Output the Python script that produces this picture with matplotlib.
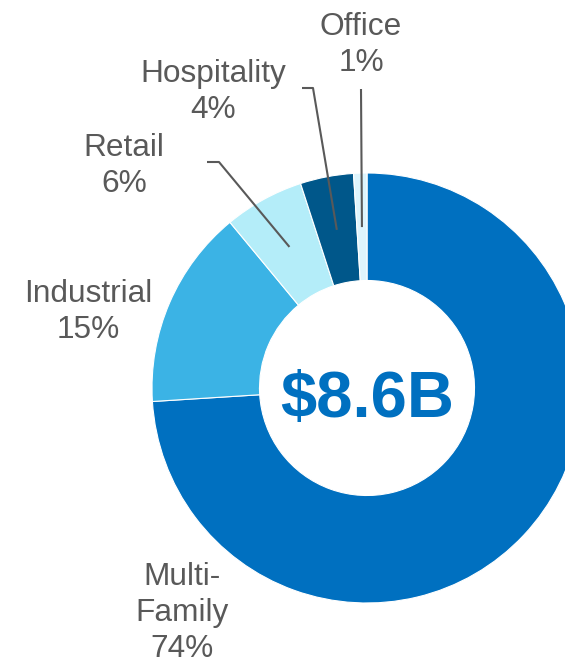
import numpy as np
import matplotlib.pyplot as plt

# chart data
segments = ["Multi-Family", "Industrial", "Retail", "Hospitality", "Office"]
shares = [74, 15, 6, 4, 1]
label_names = ["Multi-\nFamily", "Industrial", "Retail", "Hospitality", "Office"]
total_label = r"\$8.6B"

colors = ["#0070C0", "#3BB3E5", "#B4EDF9", "#00578A", "#DEF5FD"]
text_gray = "#595959"

W, H = 565, 661


def py(y):
    # pixel row (from top) -> data y
    return H - y


# label placement: centre x, first baseline, in pixels from top-left
label_pos = {
    "Multi-Family": (182, 585),
    "Industrial": (88, 302),
    "Retail": (124, 156),
    "Hospitality": (213, 82),
    "Office": (361, 35),
}
# leader lines: elbow points in pixels (None = no leader)
leaders = {
    "Retail": [(207, 162), (219, 162)],
    "Hospitality": [(302, 88), (313, 88)],
    "Office": [(361, 89)],
}
line_step = 36

cx, cy = 367, py(388)
r_out, r_in = 215, 107.5

fig = plt.figure(figsize=(W / 100, H / 100), dpi=100)
ax = fig.add_axes([0, 0, 1, 1])

ax.pie(shares, colors=colors, startangle=90, counterclock=False,
       radius=r_out, center=(cx, cy),
       wedgeprops=dict(width=r_out - r_in, edgecolor="white", linewidth=0.8))

ax.set_xlim(0, W)
ax.set_ylim(0, H)
ax.set_aspect("equal")
ax.axis("off")

font = "Liberation Sans"
cum = np.cumsum([0] + shares[:-1])
for name, lab, share, c0 in zip(segments, label_names, shares, cum):
    x0, y0 = label_pos[name]
    lines = lab.split("\n") + [f"{share}%"]
    for i, line in enumerate(lines):
        ax.text(x0, py(y0 + i * line_step), line, ha="center", va="baseline",
                fontsize=22.8, color=text_gray, family=font)
    if name in leaders:
        theta = np.deg2rad(90 - 360 * (c0 + share / 2) / 100)
        ex = cx + 161 * np.cos(theta)
        ey = cy + 161 * np.sin(theta)
        pts = leaders[name]
        xs = [p[0] for p in pts] + [ex]
        ys = [py(p[1]) for p in pts] + [ey]
        ax.plot(xs, ys, color=text_gray, lw=1.5, solid_capstyle="butt")

ax.text(cx, py(417), total_label, ha="center", va="baseline",
        fontsize=47, fontweight="bold", color="#0070C0", family=font)

fig.savefig("out.png", dpi=100)
